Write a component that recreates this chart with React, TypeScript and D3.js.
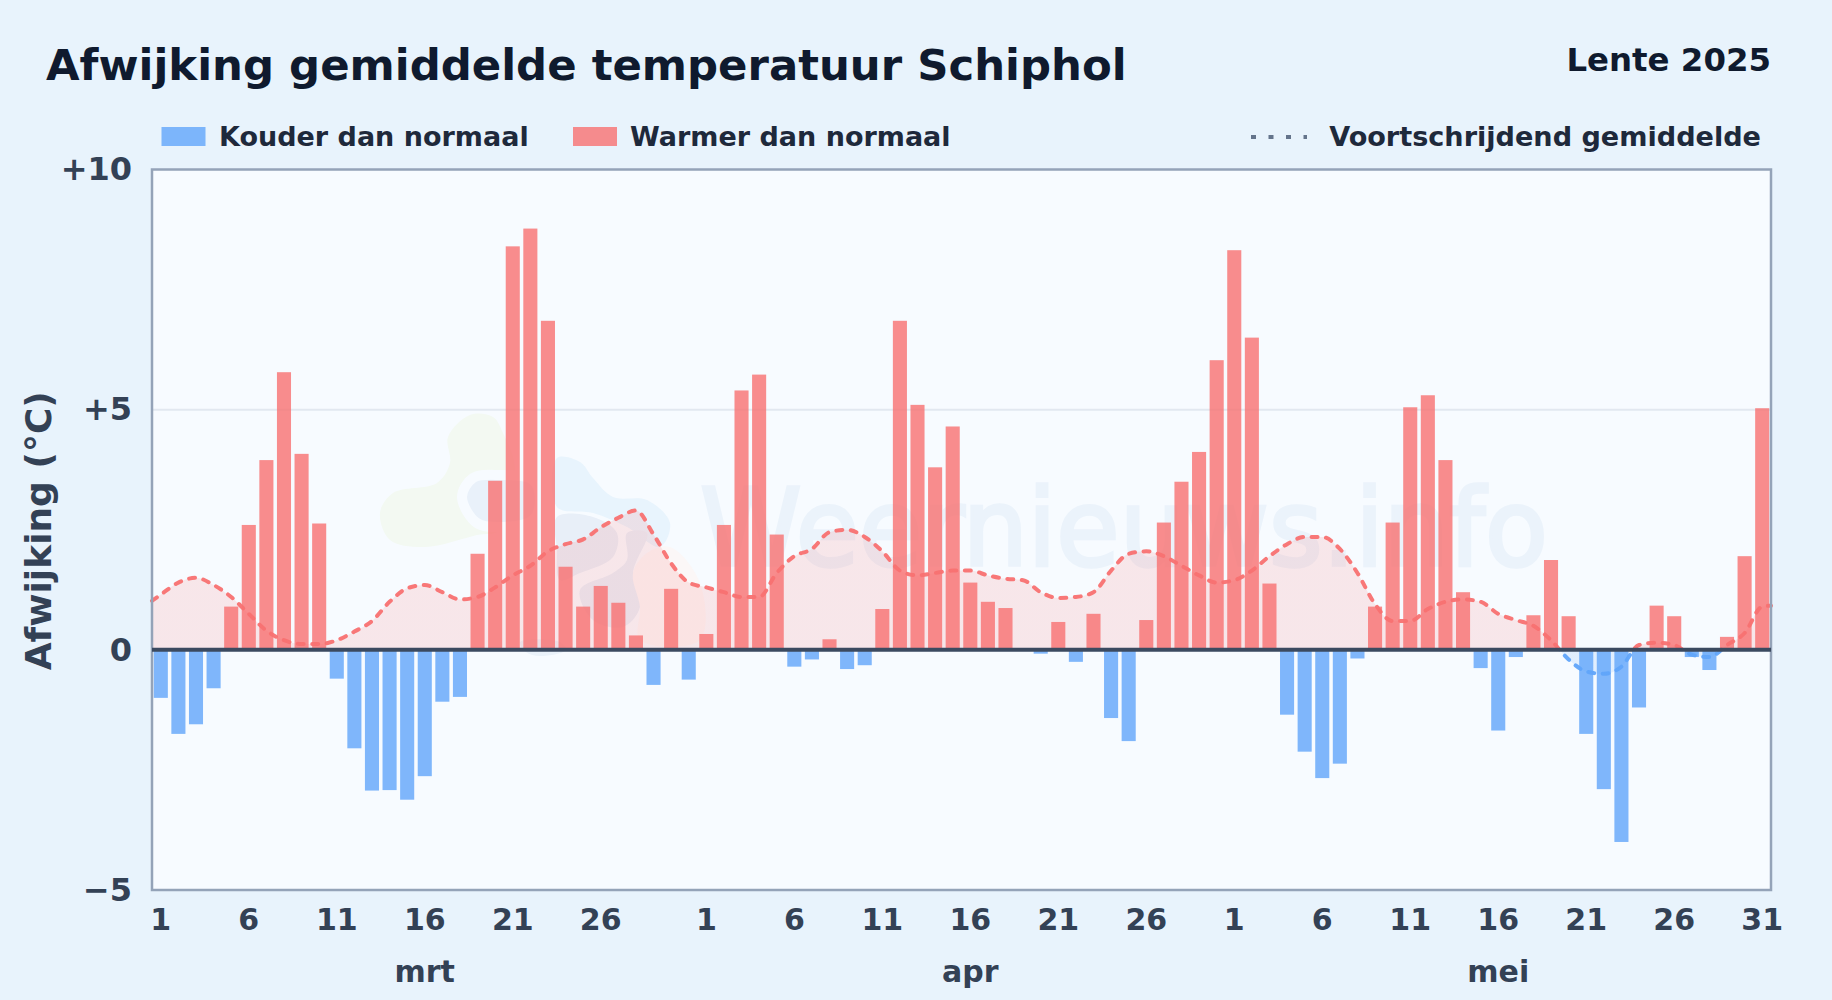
import React, { useRef, useEffect } from "react";
import * as d3 from "d3";

// Daily deviation from normal (degrees C), 1 March - 31 May 2025
const marchValues = [
  -1.0, -1.75, -1.55, -0.8, 0.9, 2.6, 3.95, 5.78, 4.08, 2.63, -0.6, -2.05, -2.93, -2.92, -3.12, -2.63,
  -1.08, -0.98, 2.0, 3.52, 8.4, 8.77, 6.85, 1.73, 0.9, 1.33, 0.98, 0.3, -0.73, 1.27, -0.62,
];
const aprilValues = [
  0.33, 2.6, 5.4, 5.73, 2.4, -0.35, -0.2, 0.22, -0.4, -0.32, 0.85, 6.85, 5.1, 3.8, 4.65, 1.4,
  1.0, 0.87, 0, -0.08, 0.58, -0.25, 0.75, -1.42, -1.9, 0.62, 2.65, 3.5, 4.12, 6.03,
];
const mayValues = [
  8.32, 6.5, 1.38, -1.35, -2.12, -2.67, -2.37, -0.18, 0.9, 2.65, 5.05, 5.3, 3.95, 1.2, -0.38, -1.68,
  -0.15, 0.72, 1.87, 0.7, -1.75, -2.9, -4.0, -1.2, 0.92, 0.7, -0.15, -0.42, 0.27, 1.95, 5.03,
];

// Running mean, one value per day
const marchAverage = [
  1.15, 1.4, 1.5, 1.35, 1.1, 0.75, 0.4, 0.2, 0.12, 0.12, 0.2, 0.38, 0.6, 1.0, 1.28, 1.35,
  1.2, 1.05, 1.1, 1.3, 1.55, 1.75, 2.05, 2.2, 2.3, 2.55, 2.75, 2.9, 2.4, 1.8, 1.4,
];
const aprilAverage = [
  1.3, 1.2, 1.1, 1.1, 1.6, 1.95, 2.1, 2.45, 2.5, 2.35, 2.05, 1.65, 1.55, 1.6, 1.65, 1.65,
  1.55, 1.48, 1.45, 1.2, 1.08, 1.1, 1.2, 1.65, 2.0, 2.05, 1.95, 1.75, 1.55, 1.4,
];
const mayAverage = [
  1.45, 1.65, 1.95, 2.2, 2.35, 2.35, 2.1, 1.6, 0.95, 0.6, 0.6, 0.85, 1.0, 1.05, 1.0, 0.75,
  0.62, 0.5, 0.2, -0.2, -0.45, -0.5, -0.35, 0.1, 0.15, 0.1, -0.1, -0.15, 0.1, 0.35, 0.9,
];
const averageAtLeftEdge = 1.02;
const averageAtRightEdge = 0.92;

const months = ["mrt", "apr", "mei"];
const monthLengths = [31, 30, 31];
const dayTickLabels = ["1", "6", "11", "16", "21", "26"];
const yTicks = [-5, 0, 5, 10];
const legendItems = ["Kouder dan normaal", "Warmer dan normaal"];

// Faint logo behind the bars (page pixels)
const logoBlobs: { color: string; ring?: boolean; points: [number, number][] }[] = [
  {
    color: "#f3f9f2",
    points: [[380, 513], [393, 493], [437, 483], [450, 463], [448, 437], [470, 415], [493, 417], [503, 433], [515, 470], [500, 530], [477, 535], [425, 547], [390, 540]],
  },
  {
    color: "#e8f4fd",
    points: [[557, 458], [580, 462], [593, 478], [613, 497], [647, 500], [670, 523], [660, 547], [627, 527], [593, 513], [557, 507]],
  },
  {
    color: "#e9f1fa",
    ring: true,
    points: [[462, 497], [473, 478], [500, 475], [533, 480], [540, 500], [533, 520], [503, 527], [477, 523]],
  },
  {
    color: "#e8eff8",
    points: [[557, 517], [593, 517], [617, 533], [613, 557], [580, 573], [560, 580], [557, 550]],
  },
  {
    color: "#e8eff8",
    points: [[580, 590], [613, 573], [627, 560], [627, 533], [647, 533], [633, 573], [640, 607], [623, 627], [593, 620]],
  },
  {
    color: "#fbf7f7",
    points: [[633, 573], [647, 553], [670, 547], [700, 583], [700, 640], [640, 640], [640, 607]],
  },
  {
    color: "#eaf2fa",
    points: [[520, 642], [560, 642], [566, 650], [540, 656], [526, 652]],
  },
];

const PAGE_BG = "#e8f3fc";
const PLOT_BG = "#f7fbff";
const RED = "#f87171";
const BLUE = "#60a5fa";
const DARK = "#0f1a2e";
const LEGEND_TEXT = "#1e293b";
const AXIS_TEXT = "#334155";
const FONT = "'DejaVu Sans', sans-serif";

export default function App() {
  const svgRef = useRef<SVGSVGElement>(null);

  useEffect(() => {
    if (!svgRef.current) return;
    const svg = d3.select(svgRef.current);
    svg.selectAll("*").remove();

    const width = 1832;
    const height = 1000;
    const margin = { top: 169.5, right: 61, bottom: 110, left: 152 };
    const innerWidth = width - margin.left - margin.right;
    const innerHeight = height - margin.top - margin.bottom;

    const values = [...marchValues, ...aprilValues, ...mayValues];
    const average = [...marchAverage, ...aprilAverage, ...mayAverage];
    const days = values.map((_, i) => i);

    const x = d3.scaleBand<number>().domain(days).range([0, innerWidth]).paddingInner(0.2).paddingOuter(0.1);
    const y = d3.scaleLinear().domain([-5, 10]).range([innerHeight, 0]);
    const center = (i: number) => (x(i) as number) + x.bandwidth() / 2;

    svg.append("rect").attr("width", width).attr("height", height).attr("fill", PAGE_BG);

    svg.append("text")
      .attr("x", 46).attr("y", 80)
      .style("font-size", "43.4px").style("font-weight", 700).style("fill", DARK)
      .text("Afwijking gemiddelde temperatuur Schiphol");
    svg.append("text")
      .attr("x", margin.left + innerWidth).attr("y", 71)
      .style("text-anchor", "end").style("font-size", "32.4px").style("font-weight", 700).style("fill", DARK)
      .text("Lente 2025");

    // Legend
    const legendX = [161.5, 573];
    const legendTextX = [219, 630];
    legendItems.forEach((label, i) => {
      svg.append("rect")
        .attr("x", legendX[i]).attr("y", 127).attr("width", 44).attr("height", 19)
        .attr("fill", i === 0 ? BLUE : RED).attr("opacity", 0.8);
      svg.append("text")
        .attr("x", legendTextX[i]).attr("y", 146)
        .style("font-size", "27px").style("font-weight", 700).style("fill", LEGEND_TEXT)
        .text(label);
    });
    svg.append("line")
      .attr("x1", 1251).attr("x2", 1307).attr("y1", 137).attr("y2", 137)
      .attr("stroke", "#64748b").attr("stroke-width", 4).attr("stroke-dasharray", "5,12.5");
    svg.append("text")
      .attr("x", 1761).attr("y", 146)
      .style("text-anchor", "end").style("font-size", "27.1px").style("font-weight", 700).style("fill", LEGEND_TEXT)
      .text("Voortschrijdend gemiddelde");

    svg.append("rect")
      .attr("x", margin.left).attr("y", margin.top)
      .attr("width", innerWidth).attr("height", innerHeight)
      .attr("fill", PLOT_BG);

    // Watermark
    const blobLine = d3.line().curve(d3.curveCatmullRomClosed.alpha(0.5));
    logoBlobs.forEach((blob) => {
      svg.append("path")
        .attr("d", blobLine(blob.points))
        .attr("fill", blob.color)
        .attr("stroke", blob.ring ? "#f7fbff" : "none")
        .attr("stroke-width", 10);
    });
    svg.append("text")
      .attr("x", 700).attr("y", 565)
      .attr("textLength", 848).attr("lengthAdjust", "spacingAndGlyphs")
      .style("font-size", "107px").style("fill", "#ebf3fb")
      .style("stroke", "#ebf3fb").style("stroke-width", 3.5)
      .text("Weernieuws.info");

    const g = svg.append("g").attr("transform", `translate(${margin.left},${margin.top})`);

    // Grid
    g.append("line")
      .attr("x1", 0).attr("x2", innerWidth).attr("y1", y(5)).attr("y2", y(5))
      .attr("stroke", "#e2e8f0").attr("stroke-width", 2);

    // Running mean: area and line split at zero
    const zeroOffset = y(0) / innerHeight;
    const defs = svg.append("defs");
    const gradient = (id: string, top: string, bottom: string) => {
      const grad = defs.append("linearGradient")
        .attr("id", id).attr("gradientUnits", "userSpaceOnUse")
        .attr("x1", 0).attr("x2", 0).attr("y1", 0).attr("y2", innerHeight);
      grad.append("stop").attr("offset", zeroOffset).attr("stop-color", top);
      grad.append("stop").attr("offset", zeroOffset).attr("stop-color", bottom);
    };
    gradient("avgStroke", RED, BLUE);
    gradient("avgFill", "rgba(248,113,113,0.15)", "rgba(96,165,250,0.15)");

    const avgPoints: [number, number][] = [
      [0, averageAtLeftEdge],
      ...average.map((v, i) => [center(i), v] as [number, number]),
      [innerWidth, averageAtRightEdge],
    ];
    const area = d3.area<[number, number]>()
      .x((d) => d[0]).y0(y(0)).y1((d) => y(d[1]))
      .curve(d3.curveMonotoneX);
    const line = d3.line<[number, number]>()
      .x((d) => d[0]).y((d) => y(d[1]))
      .curve(d3.curveMonotoneX);

    g.append("path").datum(avgPoints).attr("d", area).attr("fill", "url(#avgFill)");

    // Bars
    g.selectAll("rect.bar")
      .data(days)
      .join("rect")
      .attr("class", "bar")
      .attr("x", (i) => x(i) as number)
      .attr("width", x.bandwidth())
      .attr("y", (i) => y(Math.max(0, values[i])))
      .attr("height", (i) => Math.abs(y(values[i]) - y(0)))
      .attr("fill", (i) => (values[i] < 0 ? BLUE : RED))
      .attr("opacity", 0.8);

    g.append("path").datum(avgPoints)
      .attr("d", line)
      .attr("fill", "none")
      .attr("stroke", "url(#avgStroke)")
      .attr("stroke-width", 4)
      .attr("stroke-linecap", "round")
      .attr("stroke-dasharray", "6,8.5")
      .attr("opacity", 0.95);

    // Frame and zero line
    g.append("rect")
      .attr("width", innerWidth).attr("height", innerHeight)
      .attr("fill", "none").attr("stroke", "#94a3b8").attr("stroke-width", 2.5);
    g.append("line")
      .attr("x1", 0).attr("x2", innerWidth).attr("y1", y(0)).attr("y2", y(0))
      .attr("stroke", "#3b4a60").attr("stroke-width", 4);

    // Axes
    const yAxis = d3.axisLeft(y)
      .tickValues(yTicks)
      .tickSize(0)
      .tickPadding(20)
      .tickFormat((d) => {
        const val = Number(d);
        if (val > 0) return `+${val}`;
        if (val < 0) return `\u2212${Math.abs(val)}`;
        return "0";
      });
    const yAxisGroup = g.append("g").call(yAxis);
    yAxisGroup.select("path").remove();
    yAxisGroup.selectAll("text")
      .style("font-family", FONT).style("font-size", "32px").style("font-weight", 700).style("fill", AXIS_TEXT);

    // Day labels: every fifth day per month, plus 31 May
    const tickDays: number[] = [];
    const tickLabels = new Map<number, string>();
    let monthStart = 0;
    monthLengths.forEach((len) => {
      dayTickLabels.forEach((label) => {
        const i = monthStart + Number(label) - 1;
        tickDays.push(i);
        tickLabels.set(i, label);
      });
      monthStart += len;
    });
    tickDays.push(days.length - 1);
    tickLabels.set(days.length - 1, String(monthLengths[2]));

    const xAxis = d3.axisBottom(x)
      .tickValues(tickDays)
      .tickSize(0)
      .tickPadding(19)
      .tickFormat((d) => tickLabels.get(d as number) ?? "");
    const xAxisGroup = g.append("g").attr("transform", `translate(0,${innerHeight})`).call(xAxis);
    xAxisGroup.select("path").remove();
    xAxisGroup.selectAll("text")
      .style("font-family", FONT).style("font-size", "30px").style("font-weight", 700).style("fill", AXIS_TEXT);

    // Month labels sit under the 16th of each month
    let start = 0;
    months.forEach((m, i) => {
      g.append("text")
        .attr("x", center(start + 15))
        .attr("y", innerHeight + 92)
        .style("text-anchor", "middle")
        .style("font-size", "30px").style("font-weight", 700).style("fill", AXIS_TEXT)
        .text(m);
      start += monthLengths[i];
    });

    g.append("text")
      .attr("transform", "rotate(-90)")
      .attr("x", -(y(2.5)) - 1)
      .attr("y", -101)
      .style("text-anchor", "middle")
      .style("font-size", "36px").style("font-weight", 700).style("fill", AXIS_TEXT)
      .text("Afwijking (°C)");
  }, []);

  return (
    <svg
      ref={svgRef}
      width={1832}
      height={1000}
      style={{ display: "block", position: "absolute", left: 0, top: 0, fontFamily: FONT }}
    />
  );
}
